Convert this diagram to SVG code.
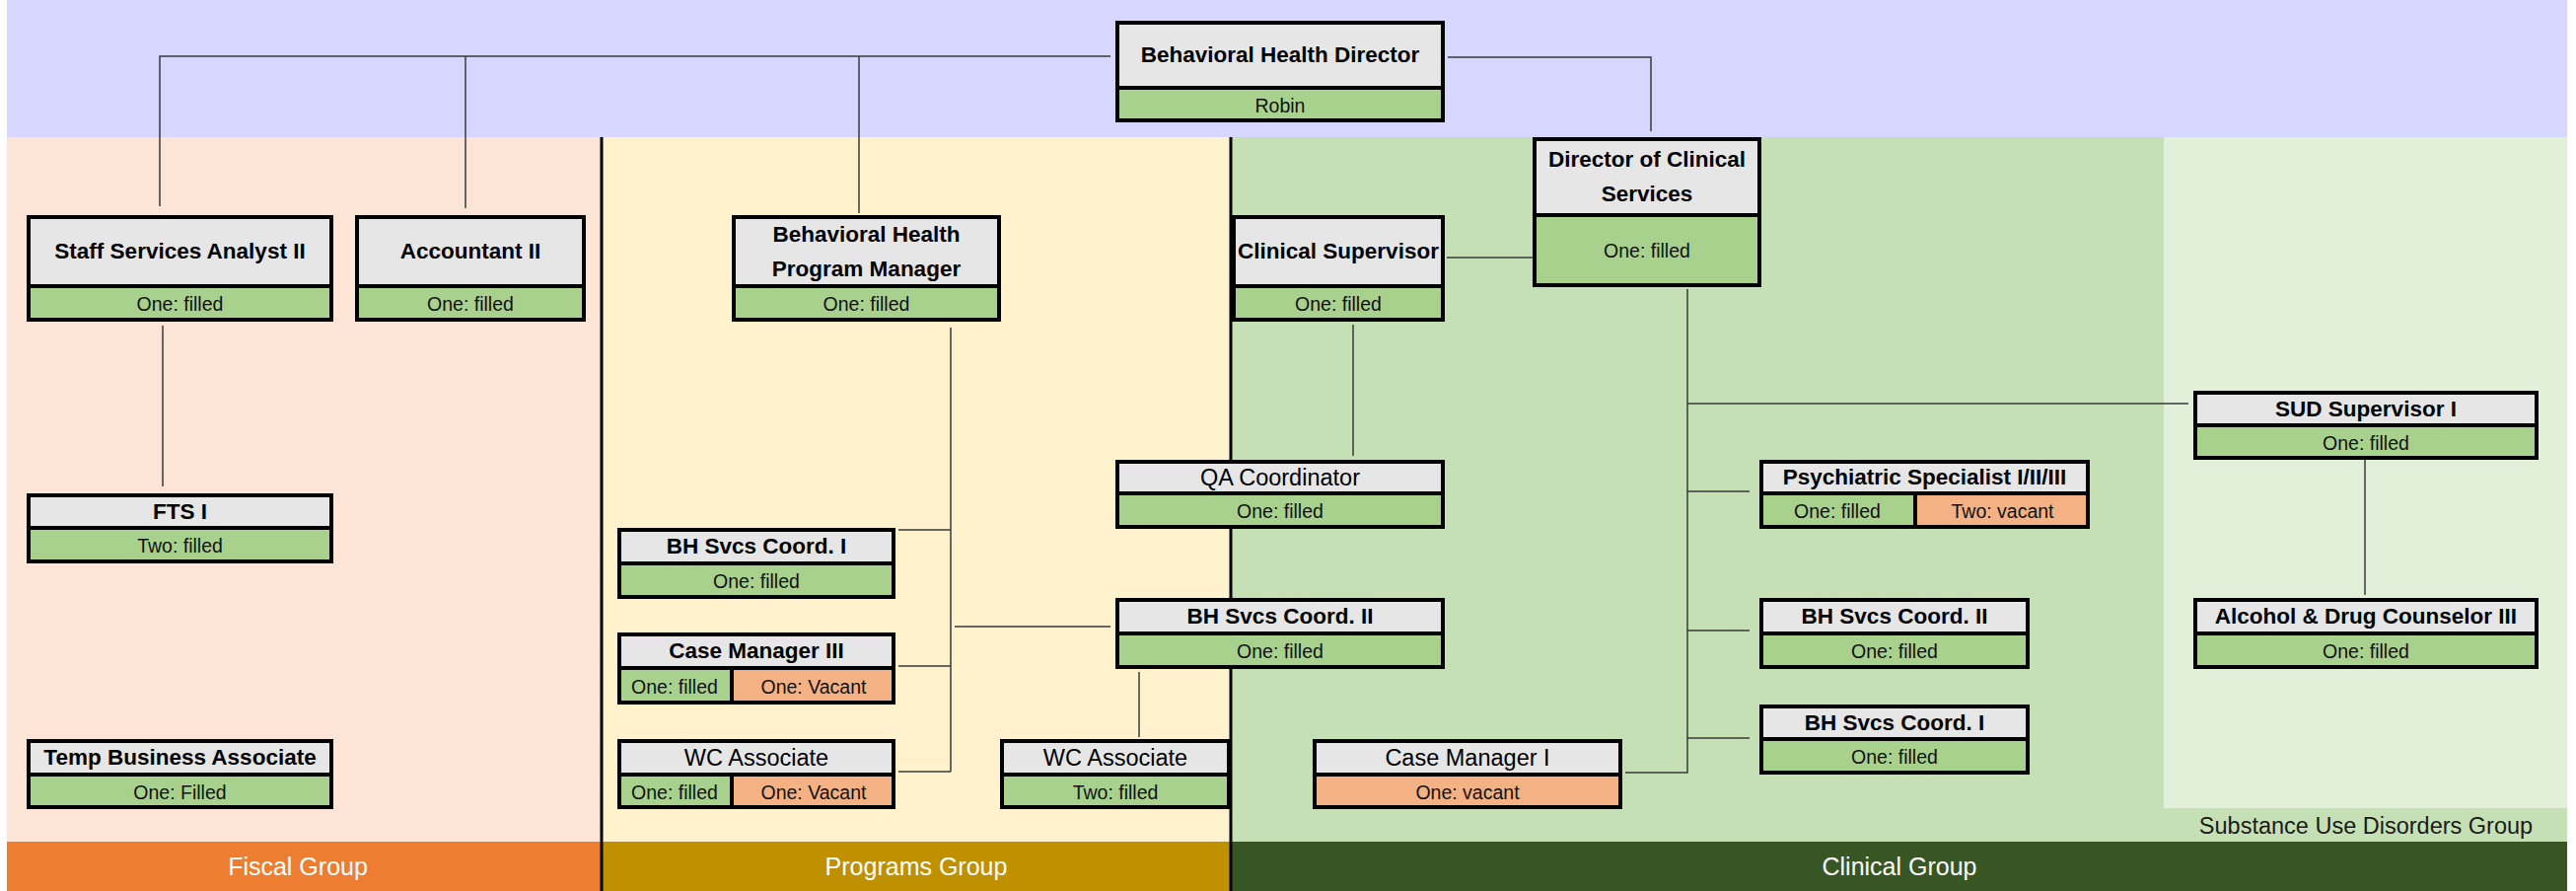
<svg xmlns="http://www.w3.org/2000/svg" width="2612" height="903" viewBox="0 0 2612 903">
<style>
.hd{fill:#E7E6E6}
.gr{fill:#A9D18E}
.or{fill:#F4B183}
.bd{fill:none;stroke:#000;stroke-width:4}
.dv{stroke:#000;stroke-width:4}
text{font-family:"Liberation Sans",Arial,sans-serif;text-anchor:middle;fill:#000}
.tb{font-weight:bold;font-size:22.5px}
.tr{font-size:23.5px}
.ts{font-size:19.5px;fill:#111}
.gl{font-size:25px;fill:#fff}
.conn{fill:none;stroke:#3a3a3a;stroke-width:1.5}
.sep{stroke:#000;stroke-width:3}
</style>
<g id="background">
<rect x="0" y="0" width="2612" height="903" fill="#fff"/>
<rect x="7" y="0" width="2596" height="139" fill="#D6D6FF"/>
<rect x="7" y="139" width="603" height="714" fill="#FCE4D6"/>
<rect x="610" y="139" width="638" height="714" fill="#FFF2CC"/>
<rect x="1248" y="139" width="1355" height="714" fill="#C5E0B4"/>
<rect x="2194" y="139" width="409" height="680" fill="#E2F0D9"/>
<rect x="7" y="853" width="603" height="50" fill="#ED7D31"/>
<rect x="610" y="853" width="638" height="50" fill="#BF9000"/>
<rect x="1248" y="853" width="1355" height="50" fill="#375623"/>
<line class="sep" x1="610" y1="139" x2="610" y2="903"/>
<line class="sep" x1="1248" y1="139" x2="1248" y2="903"/>
<text class="gl" x="302" y="887">Fiscal Group</text>
<text class="gl" x="929" y="887">Programs Group</text>
<text class="gl" x="1926" y="887">Clinical Group</text>
<text x="2399" y="845" style="font-size:23.5px;fill:#1a1a1a">Substance Use Disorders Group</text>
</g>
<g id="connectors">
<path class="conn" d="M1126 57 H162 V209 M472 57 V211 M871 57 V216"/>
<path class="conn" d="M1468 58 H1674 V133"/>
<path class="conn" d="M1467 261 H1554"/>
<path class="conn" d="M1372 329 V462"/>
<path class="conn" d="M165 330 V493"/>
<path class="conn" d="M964 332 V782 M911 537 H964 M911 675 H964 M911 782 H964 M968 635 H1126"/>
<path class="conn" d="M1155 681 V747"/>
<path class="conn" d="M1711 293 V783 H1648 M1711 409 H2219 M1711 498 H1774 M1711 639 H1774 M1711 748 H1774"/>
<path class="conn" d="M2398 465 V603"/>
</g>
<g id="n-bhd">
<rect class="hd" x="1131" y="21" width="334" height="68"/>
<rect class="gr" x="1131" y="89" width="334" height="35"/>
<rect class="bd" x="1133" y="23" width="330" height="99"/>
<line class="dv" x1="1131" y1="89" x2="1465" y2="89"/>
<text class="tb" x="1298" y="63">Behavioral Health Director</text>
<text class="ts" x="1298" y="113.5">Robin</text>
</g>
<g id="n-ssa">
<rect class="hd" x="27" y="218" width="311" height="72"/>
<rect class="gr" x="27" y="290" width="311" height="36"/>
<rect class="bd" x="29" y="220" width="307" height="104"/>
<line class="dv" x1="27" y1="290" x2="338" y2="290"/>
<text class="tb" x="182.5" y="262">Staff Services Analyst II</text>
<text class="ts" x="182.5" y="315">One: filled</text>
</g>
<g id="n-acct">
<rect class="hd" x="360" y="218" width="234" height="72"/>
<rect class="gr" x="360" y="290" width="234" height="36"/>
<rect class="bd" x="362" y="220" width="230" height="104"/>
<line class="dv" x1="360" y1="290" x2="594" y2="290"/>
<text class="tb" x="477" y="262">Accountant II</text>
<text class="ts" x="477" y="315">One: filled</text>
</g>
<g id="n-bhpm">
<rect class="hd" x="742" y="218" width="273" height="72"/>
<rect class="gr" x="742" y="290" width="273" height="36"/>
<rect class="bd" x="744" y="220" width="269" height="104"/>
<line class="dv" x1="742" y1="290" x2="1015" y2="290"/>
<text class="tb" x="878.5" y="245">Behavioral Health</text>
<text class="tb" x="878.5" y="280">Program Manager</text>
<text class="ts" x="878.5" y="315">One: filled</text>
</g>
<g id="n-cs">
<rect class="hd" x="1249" y="218" width="216" height="72"/>
<rect class="gr" x="1249" y="290" width="216" height="36"/>
<rect class="bd" x="1251" y="220" width="212" height="104"/>
<line class="dv" x1="1249" y1="290" x2="1465" y2="290"/>
<text class="tb" x="1357" y="262">Clinical Supervisor</text>
<text class="ts" x="1357" y="315">One: filled</text>
</g>
<g id="n-dcs">
<rect class="hd" x="1554" y="139" width="232" height="79"/>
<rect class="gr" x="1554" y="218" width="232" height="73"/>
<rect class="bd" x="1556" y="141" width="228" height="148"/>
<line class="dv" x1="1554" y1="218" x2="1786" y2="218"/>
<text class="tb" x="1670" y="169">Director of Clinical</text>
<text class="tb" x="1670" y="204">Services</text>
<text class="ts" x="1670" y="261">One: filled</text>
</g>
<g id="n-fts">
<rect class="hd" x="27" y="500" width="311" height="35"/>
<rect class="gr" x="27" y="535" width="311" height="36"/>
<rect class="bd" x="29" y="502" width="307" height="67"/>
<line class="dv" x1="27" y1="535" x2="338" y2="535"/>
<text class="tb" x="182.5" y="525.5">FTS I</text>
<text class="ts" x="182.5" y="560">Two: filled</text>
</g>
<g id="n-tba">
<rect class="hd" x="27" y="749" width="311" height="36"/>
<rect class="gr" x="27" y="785" width="311" height="35"/>
<rect class="bd" x="29" y="751" width="307" height="67"/>
<line class="dv" x1="27" y1="785" x2="338" y2="785"/>
<text class="tb" x="182.5" y="775">Temp Business Associate</text>
<text class="ts" x="182.5" y="809.5">One: Filled</text>
</g>
<g id="n-bhsc1p">
<rect class="hd" x="626" y="535" width="282" height="36"/>
<rect class="gr" x="626" y="571" width="282" height="36"/>
<rect class="bd" x="628" y="537" width="278" height="68"/>
<line class="dv" x1="626" y1="571" x2="908" y2="571"/>
<text class="tb" x="767" y="561">BH Svcs Coord. I</text>
<text class="ts" x="767" y="596">One: filled</text>
</g>
<g id="n-cm3">
<rect class="hd" x="626" y="641" width="282" height="36"/>
<rect class="gr" x="626" y="677" width="116" height="37"/>
<rect class="or" x="742" y="677" width="166" height="37"/>
<rect class="bd" x="628" y="643" width="278" height="69"/>
<line class="dv" x1="626" y1="677" x2="908" y2="677"/>
<line class="dv" x1="742" y1="677" x2="742" y2="714"/>
<text class="tb" x="767" y="667">Case Manager III</text>
<text class="ts" x="684" y="702.5">One: filled</text>
<text class="ts" x="825" y="702.5">One: Vacant</text>
</g>
<g id="n-wca1">
<rect class="hd" x="626" y="749" width="282" height="36"/>
<rect class="gr" x="626" y="785" width="116" height="35"/>
<rect class="or" x="742" y="785" width="166" height="35"/>
<rect class="bd" x="628" y="751" width="278" height="67"/>
<line class="dv" x1="626" y1="785" x2="908" y2="785"/>
<line class="dv" x1="742" y1="785" x2="742" y2="820"/>
<text class="tr" x="767" y="775.5">WC Associate</text>
<text class="ts" x="684" y="809.5">One: filled</text>
<text class="ts" x="825" y="809.5">One: Vacant</text>
</g>
<g id="n-qa">
<rect class="hd" x="1131" y="466" width="334" height="34"/>
<rect class="gr" x="1131" y="500" width="334" height="36"/>
<rect class="bd" x="1133" y="468" width="330" height="66"/>
<line class="dv" x1="1131" y1="500" x2="1465" y2="500"/>
<text class="tr" x="1298" y="491.5">QA Coordinator</text>
<text class="ts" x="1298" y="525">One: filled</text>
</g>
<g id="n-bhsc2p">
<rect class="hd" x="1131" y="606" width="334" height="36"/>
<rect class="gr" x="1131" y="642" width="334" height="36"/>
<rect class="bd" x="1133" y="608" width="330" height="68"/>
<line class="dv" x1="1131" y1="642" x2="1465" y2="642"/>
<text class="tb" x="1298" y="632">BH Svcs Coord. II</text>
<text class="ts" x="1298" y="667">One: filled</text>
</g>
<g id="n-wca2">
<rect class="hd" x="1014" y="749" width="234" height="36"/>
<rect class="gr" x="1014" y="785" width="234" height="35"/>
<rect class="bd" x="1016" y="751" width="230" height="67"/>
<line class="dv" x1="1014" y1="785" x2="1248" y2="785"/>
<text class="tr" x="1131" y="775.5">WC Associate</text>
<text class="ts" x="1131" y="809.5">Two: filled</text>
</g>
<g id="n-cm1">
<rect class="hd" x="1331" y="749" width="314" height="36"/>
<rect class="or" x="1331" y="785" width="314" height="35"/>
<rect class="bd" x="1333" y="751" width="310" height="67"/>
<line class="dv" x1="1331" y1="785" x2="1645" y2="785"/>
<text class="tr" x="1488" y="775.5">Case Manager I</text>
<text class="ts" x="1488" y="809.5">One: vacant</text>
</g>
<g id="n-psy">
<rect class="hd" x="1784" y="466" width="335" height="34"/>
<rect class="gr" x="1784" y="500" width="158" height="36"/>
<rect class="or" x="1942" y="500" width="177" height="36"/>
<rect class="bd" x="1786" y="468" width="331" height="66"/>
<line class="dv" x1="1784" y1="500" x2="2119" y2="500"/>
<line class="dv" x1="1942" y1="500" x2="1942" y2="536"/>
<text class="tb" x="1951.5" y="491">Psychiatric Specialist I/II/III</text>
<text class="ts" x="1863" y="525">One: filled</text>
<text class="ts" x="2030.5" y="525">Two: vacant</text>
</g>
<g id="n-bhsc2c">
<rect class="hd" x="1784" y="606" width="274" height="36"/>
<rect class="gr" x="1784" y="642" width="274" height="36"/>
<rect class="bd" x="1786" y="608" width="270" height="68"/>
<line class="dv" x1="1784" y1="642" x2="2058" y2="642"/>
<text class="tb" x="1921" y="632">BH Svcs Coord. II</text>
<text class="ts" x="1921" y="667">One: filled</text>
</g>
<g id="n-bhsc1c">
<rect class="hd" x="1784" y="714" width="274" height="35"/>
<rect class="gr" x="1784" y="749" width="274" height="36"/>
<rect class="bd" x="1786" y="716" width="270" height="67"/>
<line class="dv" x1="1784" y1="749" x2="2058" y2="749"/>
<text class="tb" x="1921" y="739.5">BH Svcs Coord. I</text>
<text class="ts" x="1921" y="774">One: filled</text>
</g>
<g id="n-sud">
<rect class="hd" x="2224" y="396" width="350" height="35"/>
<rect class="gr" x="2224" y="431" width="350" height="35"/>
<rect class="bd" x="2226" y="398" width="346" height="66"/>
<line class="dv" x1="2224" y1="431" x2="2574" y2="431"/>
<text class="tb" x="2399" y="421.5">SUD Supervisor I</text>
<text class="ts" x="2399" y="455.5">One: filled</text>
</g>
<g id="n-adc">
<rect class="hd" x="2224" y="606" width="350" height="36"/>
<rect class="gr" x="2224" y="642" width="350" height="36"/>
<rect class="bd" x="2226" y="608" width="346" height="68"/>
<line class="dv" x1="2224" y1="642" x2="2574" y2="642"/>
<text class="tb" x="2399" y="632">Alcohol &amp; Drug Counselor III</text>
<text class="ts" x="2399" y="667">One: filled</text>
</g>
</svg>
